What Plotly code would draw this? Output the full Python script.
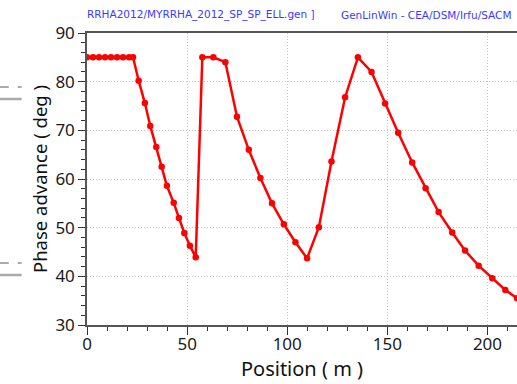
import plotly.graph_objects as go

position = [0, 3, 6, 9, 12, 15, 18, 21, 23,
            25.8, 28.9, 31.6, 34.6, 37.3, 39.9, 43.3, 45.9, 48.6, 51.4, 54.3,
            57.6, 63.1, 69.1, 74.9, 80.8, 86.6, 92.4, 98.3, 104.1, 109.9,
            115.8, 122.1, 128.9, 135.3, 142.1, 148.9, 155.4, 162.4, 169.1,
            175.6, 182.4, 188.8, 195.6, 202.4, 208.9, 214.8, 221.0]
phase = [85, 85, 85, 85, 85, 85, 85, 85, 85,
         80.2, 75.6, 70.9, 66.6, 62.5, 58.6, 55.1, 52.0, 48.9, 46.3, 43.9,
         85.0, 85.0, 84.0, 72.8, 66.0, 60.2, 55.0, 50.7, 47.0, 43.7,
         50.1, 63.6, 76.8, 85.0, 82.0, 75.5, 69.5, 63.4, 58.1,
         53.2, 49.0, 45.3, 42.2, 39.6, 37.2, 35.5, 33.7]

x_ticks = [0, 50, 100, 150, 200]
y_ticks = [30, 40, 50, 60, 70, 80, 90]

fig = go.Figure()
fig.add_trace(go.Scatter(
    x=position, y=phase, mode="lines+markers",
    line=dict(color="#ff0000", width=2.5),
    marker=dict(color="#ff0000", size=6.5),
    showlegend=False,
))

axis_font = dict(family="Noto Sans", size=17, color="#1a1a1a")
fig.update_layout(
    width=517, height=384,
    margin=dict(l=87, r=0, t=33, b=59),
    paper_bgcolor="white", plot_bgcolor="white",
    xaxis=dict(
        range=[0, 214.75], tickvals=x_ticks, ticks="outside", ticklen=8,
        tickcolor="#333", showline=True, linecolor="#555", linewidth=1.5,
        mirror=True, showgrid=True, gridcolor="#c4c4c4", griddash="1px,2px",
        gridwidth=1, zeroline=False, tickfont=axis_font, ticklabelstandoff=-5,
        minor=dict(dtick=10, ticks="outside", ticklen=4, tickcolor="#333", showgrid=False),
        title=dict(text="Position ( m )", font=dict(family="Noto Sans", size=20, color="#111111"),
                   standoff=0),
    ),
    yaxis=dict(
        range=[30, 90], tickvals=y_ticks, ticks="outside", ticklen=7,
        tickcolor="#333", showline=True, linecolor="#555", linewidth=1.5,
        mirror=False, showgrid=True, gridcolor="#c4c4c4", griddash="1px,2px",
        gridwidth=1, zeroline=False, tickfont=axis_font,
        minor=dict(dtick=2, ticks="outside", ticklen=4, tickcolor="#333", showgrid=False),
        title=dict(text="Phase advance ( deg )", font=dict(family="Noto Sans", size=18.5, color="#111111"),
                   standoff=3),
    ),
    annotations=[
        dict(text="RRHA2012/MYRRHA_2012_SP_SP_ELL.gen ]", xref="paper", yref="paper",
             x=-0.005, y=1.062, xanchor="left", yanchor="middle", showarrow=False,
             font=dict(family="DejaVu Sans", size=10.5, color="#3a3aff")),
        dict(text="GenLinWin - CEA/DSM/Irfu/SACM", xref="paper", yref="paper",
             x=0.99, y=1.062, xanchor="right", yanchor="middle", showarrow=False,
             font=dict(family="DejaVu Sans", size=10.5, color="#3a3aff")),
    ],
    shapes=[
        dict(type="line", xref="paper", yref="paper", x0=-0.203, x1=-0.152,
             y0=(325 - 87) / 292, y1=(325 - 87) / 292, line=dict(color="#aaaaaa", width=2, dash="dash")),
        dict(type="line", xref="paper", yref="paper", x0=-0.203, x1=-0.152,
             y0=(325 - 99) / 292, y1=(325 - 99) / 292, line=dict(color="#aaaaaa", width=2.5)),
        dict(type="line", xref="paper", yref="paper", x0=-0.203, x1=-0.152,
             y0=(325 - 263) / 292, y1=(325 - 263) / 292, line=dict(color="#aaaaaa", width=2, dash="dash")),
        dict(type="line", xref="paper", yref="paper", x0=-0.203, x1=-0.152,
             y0=(325 - 275) / 292, y1=(325 - 275) / 292, line=dict(color="#aaaaaa", width=2.5)),
    ],
)

fig.write_html("out.html")
